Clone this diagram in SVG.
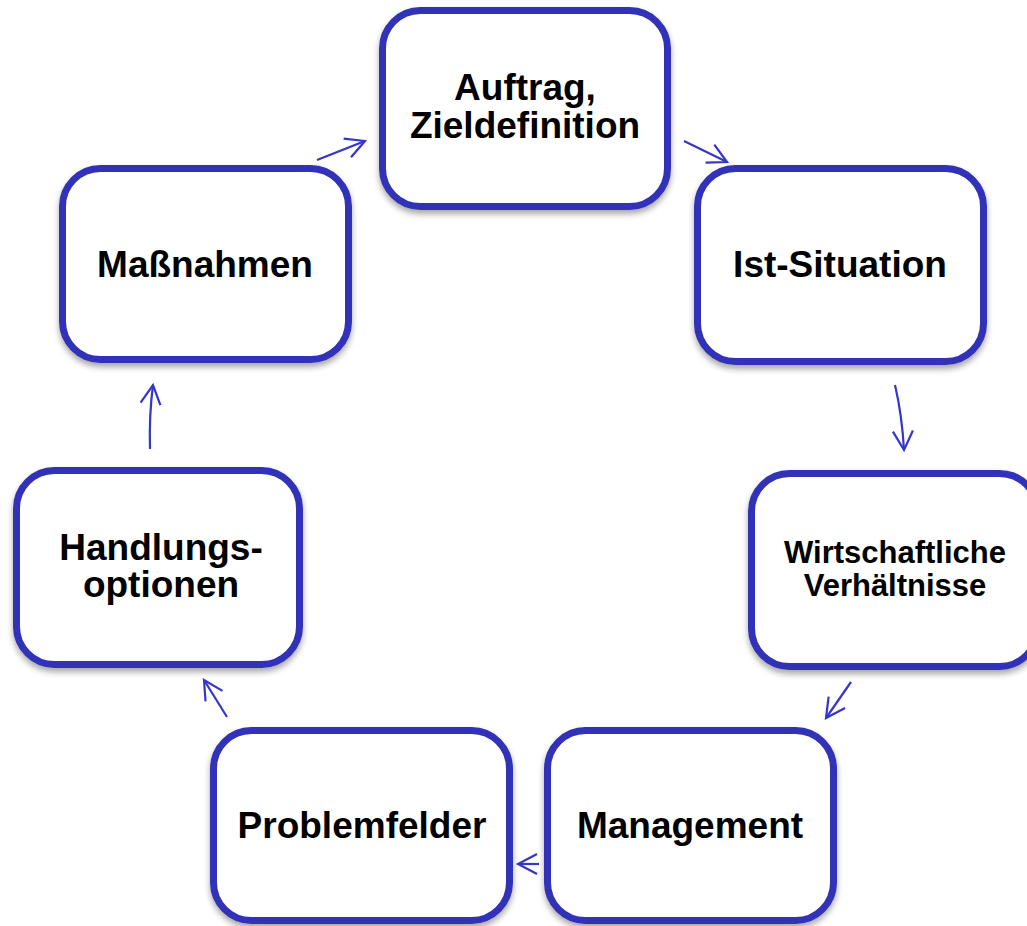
<svg xmlns="http://www.w3.org/2000/svg" width="1027" height="926" viewBox="0 0 1027 926">
<style>
.box{fill:#ffffff;stroke:#3131b9;stroke-width:7;filter:url(#sh)}
.t{font-family:"Liberation Sans",Arial,sans-serif;font-weight:bold;font-size:37px;fill:#000;text-anchor:middle}
.ts{font-size:31px}
.c{fill:none;stroke:#3535cc;stroke-width:2.2;marker-end:url(#ah)}
</style>
<defs>
<filter id="sh" x="-10%" y="-10%" width="120%" height="125%">
<feGaussianBlur in="SourceAlpha" stdDeviation="3"/>
<feOffset dy="4" result="b"/>
<feComponentTransfer><feFuncA type="linear" slope="0.35"/></feComponentTransfer>
<feMerge><feMergeNode/><feMergeNode in="SourceGraphic"/></feMerge>
</filter>
<marker id="ah" markerUnits="userSpaceOnUse" markerWidth="26" markerHeight="26" viewBox="-23 -13 26 26" refX="0" refY="0" orient="auto">
<path d="M-19,-10 L0,0 L-19,10" fill="none" stroke="#3535cc" stroke-width="2.2"/>
</marker>
</defs>
<rect width="1027" height="926" fill="#ffffff"/>
<g id="connectors">
<path class="c" d="M317,160 L365,141"/>
<path class="c" d="M684,141 L727,162"/>
<path class="c" d="M895,385 Q902,415 904,450"/>
<path class="c" d="M851,682 L826,718"/>
<path class="c" d="M539,864 L518,864"/>
<path class="c" d="M227,717 L204,680"/>
<path class="c" d="M150,449 Q149,415 153,385"/>
</g>
<g id="n1"><rect class="box" x="382.5" y="10.5" width="285" height="196" rx="38"/><text class="t" x="525" y="100">Auftrag,</text><text class="t" x="525" y="138">Zieldefinition</text></g>
<g id="n2"><rect class="box" x="697.5" y="168.5" width="286" height="193" rx="38"/><text class="t" x="840" y="277">Ist-Situation</text></g>
<g id="n3"><rect class="box" x="751.5" y="473.5" width="286" height="193" rx="38"/><text class="t ts" x="895" y="563">Wirtschaftliche</text><text class="t ts" x="895" y="596">Verhältnisse</text></g>
<g id="n4"><rect class="box" x="547.5" y="730.5" width="286" height="190" rx="38"/><text class="t" x="690" y="838">Management</text></g>
<g id="n5"><rect class="box" x="213.5" y="730.5" width="296" height="190" rx="38"/><text class="t" x="362" y="838">Problemfelder</text></g>
<g id="n6"><rect class="box" x="16.5" y="470.5" width="283" height="194" rx="38"/><text class="t" x="161" y="560">Handlungs-</text><text class="t" x="161" y="597">optionen</text></g>
<g id="n7"><rect class="box" x="62.5" y="168.5" width="286" height="191" rx="38"/><text class="t" x="205" y="277">Maßnahmen</text></g>
</svg>
